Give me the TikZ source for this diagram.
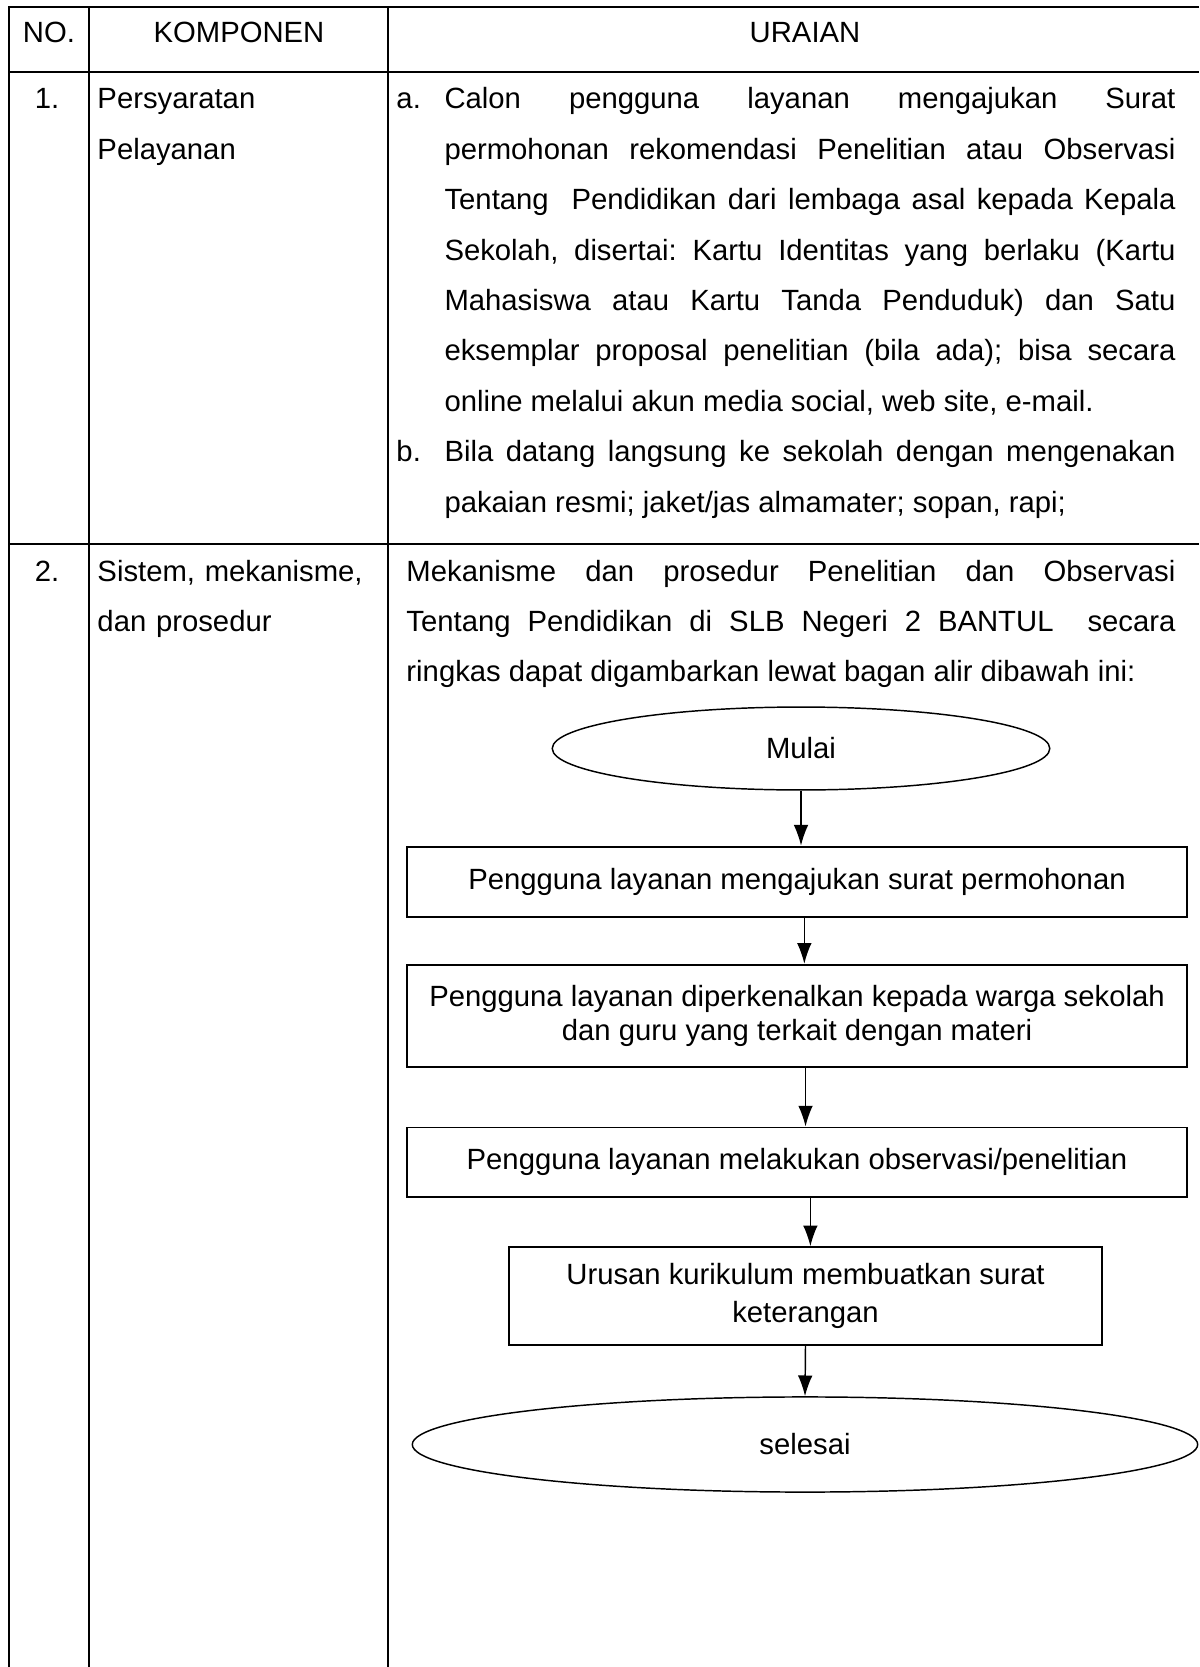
\documentclass[tikz,border=0pt]{standalone}
\usepackage{fontspec}
\setmainfont{Liberation Sans}
\usetikzlibrary{arrows.meta,shapes.geometric,positioning}
\frenchspacing

\begin{document}
\begin{tikzpicture}[x=0.41pt,y=-0.41pt,
    garis/.style={line width=1pt},
    kotak/.style={rectangle, draw, line width=0.8pt, minimum width=320pt, align=center, inner sep=2pt, font=\fontsize{12}{14}\selectfont},
    oval/.style={ellipse, draw, line width=0.6pt, inner sep=1pt, font=\fontsize{12}{14}\selectfont},
    teks/.style={inner sep=0pt, font=\fontsize{12}{14.4}\selectfont},
    isi/.style={inner sep=0pt, align=justify, font=\fontsize{12}{20.66}\selectfont},
    panah/.style={-{Latex[length=8.5pt,width=6pt]}, line width=0.6pt}]
  \useasboundingbox (0,0) rectangle (1199,1667);
  % garis tabel
  \draw[garis] (1199,7) -- (9,7) -- (9,1667);
  \draw[garis] (9,72) -- (1199,72);
  \draw[garis] (9,544) -- (1199,544);
  \draw[garis] (89,7) -- (89,1667);
  \draw[garis] (388,7) -- (388,1667);
  % kepala tabel
  \node[teks, anchor=base] (no) at (49,43) {NO.};
  \node[teks, anchor=base] (komponen) at (239,43) {KOMPONEN};
  \node[teks, anchor=base] (uraian) at (805,43) {URAIAN};
  % baris 1
  \node[teks, anchor=base] (no1) at (47,109) {1.};
  \node[isi, align=left, text width=130pt, anchor=base west] (persyaratan) at (97,109) {Persyaratan\\Pelayanan};
  \node[isi, text width=319.4pt, anchor=base west] (syarata) at (396,109) {\hangindent=19.7pt\hangafter=1\makebox[19.7pt][l]{a.}Calon pengguna layanan mengajukan Surat\linebreak permohonan rekomendasi Penelitian atau Observasi\linebreak Tentang~ Pendidikan dari lembaga asal kepada Kepala\linebreak Sekolah, disertai: Kartu Identitas yang berlaku (Kartu\linebreak Mahasiswa atau Kartu Tanda Penduduk) dan Satu\linebreak eksemplar proposal penelitian (bila ada); bisa secara\linebreak online melalui akun media social, web site, e-mail.\par};
  \node[isi, text width=319.4pt, anchor=base west] (syaratb) at (396,462) {\hangindent=19.7pt\hangafter=1\makebox[19.7pt][l]{b.}Bila datang langsung ke sekolah dengan mengenakan\linebreak pakaian resmi; jaket/jas almamater; sopan, rapi;\par};
  % baris 2
  \node[teks, anchor=base] (no2) at (47,581) {2.};
  \node[isi, align=left, text width=130pt, anchor=base west] (sistem) at (97,581) {Sistem, mekanisme,\\dan prosedur};
  \node[isi, text width=315.3pt, anchor=base west] (mekanisme) at (406,581) {Mekanisme dan prosedur Penelitian dan Observasi\linebreak Tentang Pendidikan di SLB Negeri 2 BANTUL~ secara\linebreak ringkas dapat digambarkan lewat bagan alir dibawah ini:};
  % bagan alir
  \node[oval, minimum width=204pt, minimum height=34pt] (mulai) at (801,748.5) {Mulai};
  \node[kotak, minimum height=29pt] (ajukan) at (797,882) {Pengguna layanan mengajukan surat permohonan};
  \node[kotak, minimum height=42pt] (kenalkan) at (797,1016) {Pengguna layanan diperkenalkan kepada warga sekolah\\dan guru yang terkait dengan materi};
  \node[kotak, minimum height=28.3pt] (observasi) at (797,1162) {Pengguna layanan melakukan observasi/penelitian};
  \node[kotak, minimum width=243pt, minimum height=40pt, font=\fontsize{12}{15.6}\selectfont] (keterangan) at (805.5,1296) {Urusan kurikulum membuatkan surat\\keterangan};
  \node[oval, minimum width=322pt, minimum height=39pt] (selesai) at (805,1444.5) {selesai};
  \draw[panah] (mulai.south) -- (mulai.south |- ajukan.north);
  \draw[panah] ([xshift=3pt]ajukan.south) -- ([xshift=3pt]kenalkan.north);
  \draw[panah] ([xshift=3.5pt]kenalkan.south) -- ([xshift=3.5pt]observasi.north);
  \draw[panah] ([xshift=2pt]keterangan.north |- observasi.south) -- ([xshift=2pt]keterangan.north);
  \draw[panah] (keterangan.south) -- (selesai.north);
\end{tikzpicture}
\end{document}
